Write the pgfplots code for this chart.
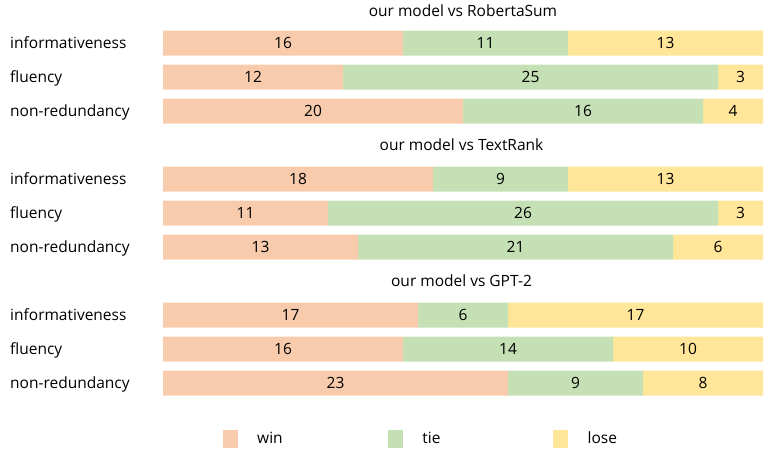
\documentclass[border=0pt]{standalone}
\usepackage{fontspec}
\setmainfont{Open Sans}
\usepackage{pgfplots}
\usepackage{pgfplotstable}
\pgfplotsset{compat=1.18}
\definecolor{winc}{HTML}{F8CBAD}
\definecolor{tiec}{HTML}{C5E0B4}
\definecolor{losec}{HTML}{FFE699}
\newcommand{\fs}{\fontsize{15.5}{18}\selectfont}
\pgfplotstableread{
y win tie lose
1 16 11 13
2 12 25 3
3 20 16 4
5 18 9 13
6 11 26 3
7 13 21 6
9 17 6 17
10 16 14 10
11 23 9 8
}\data
\begin{document}
\fs
\begin{tikzpicture}
\useasboundingbox (0,0) rectangle (776pt,451pt);
\begin{axis}[at={(163pt,34pt)}, anchor=south west, scale only axis,
  width=600pt, height=408pt,
  xmin=0, xmax=40, ymin=0, ymax=12, y dir=reverse,
  xbar stacked, bar width=25pt,
  axis line style={draw=none}, major tick length=0pt,
  xtick=\empty,
  ytick={1,2,3,5,6,7,9,10,11},
  yticklabels={informativeness,fluency,non-redundancy,informativeness,fluency,non-redundancy,informativeness,fluency,non-redundancy},
  yticklabel style={anchor=base west, inner sep=0pt, xshift=-153pt, yshift=-0.37em, font=\fs},
  clip=false,
  legend columns=3,
  legend image code/.code={\fill[#1] (0pt,-9pt) rectangle (15pt,9pt);},
  legend style={at={(0.0995,-0.054)}, anchor=west, draw=none, fill=none, inner sep=0pt,
    nodes={inner sep=0pt}, cells={anchor=west}, font=\fs,
    /tikz/every odd column/.append style={column sep=19.3pt},
    /tikz/every even column/.append style={text width=130.9pt}},
]
\addplot[fill=winc, draw=none] table[x=win, y=y]{\data};
\addplot[fill=tiec, draw=none] table[x=tie, y=y]{\data};
\addplot[fill=losec, draw=none] table[x=lose, y=y]{\data};
\legend{win,tie,lose}
\node[font=\fs, anchor=base, yshift=-0.37em] at (axis cs:20,0.05) {our model vs RobertaSum};
\node[font=\fs, anchor=base, yshift=-0.37em] at (axis cs:19.9,4) {our model vs TextRank};
\node[font=\fs, anchor=base, yshift=-0.37em] at (axis cs:19.9,8) {our model vs GPT-2};
\end{axis}
\begin{axis}[at={(163pt,34pt)}, anchor=south west, scale only axis,
  width=600pt, height=408pt,
  xmin=0, xmax=40, ymin=0, ymax=12, y dir=reverse, hide axis, clip=false]
\addplot[only marks, mark=*, mark size=0pt, mark options={draw=none, fill=none},
  nodes near coords, point meta=explicit symbolic,
  every node near coord/.append style={anchor=base, yshift=-0.37em, inner sep=0pt, font=\fs}]
coordinates {
(8,1) [16] (21.5,1) [11] (33.5,1) [13]
(6,2) [12] (24.5,2) [25] (38.5,2) [3]
(10,3) [20] (28,3) [16] (38,3) [4]
(9,5) [18] (22.5,5) [9] (33.5,5) [13]
(5.5,6) [11] (24,6) [26] (38.5,6) [3]
(6.5,7) [13] (23.5,7) [21] (37,7) [6]
(8.5,9) [17] (20,9) [6] (31.5,9) [17]
(8,10) [16] (23,10) [14] (35,10) [10]
(11.5,11) [23] (27.5,11) [9] (36,11) [8]
};
\end{axis}
\end{tikzpicture}
\end{document}
